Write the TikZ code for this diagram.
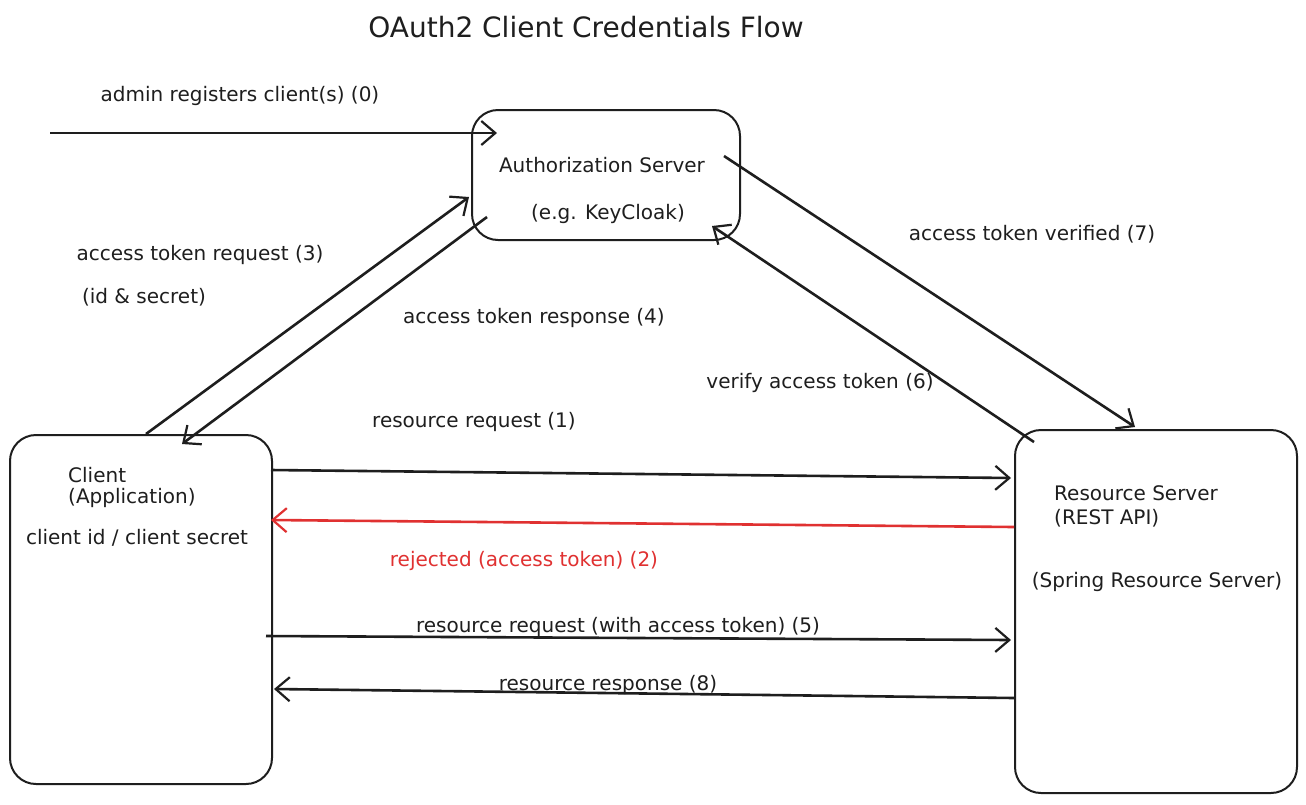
\documentclass[tikz,border=0pt]{standalone}
\usepackage{fontspec}
\setmainfont{DejaVu Sans}
\usetikzlibrary{arrows.meta,calc}
\definecolor{ink}{HTML}{1E1E1E}
\definecolor{redink}{HTML}{E03131}
\tikzset{
  box/.style={draw=ink, line width=2pt, rounded corners=26pt, inner sep=0pt},
  arr/.style={draw=ink, line width=2.6pt, -{Straight Barb[length=14pt,width=24pt,line width=2.2pt]}},
  redarr/.style={arr, draw=redink},
  lbl/.style={text=ink, font=\fontsize{20}{24}\selectfont, inner sep=0pt},
  redlbl/.style={lbl, text=redink},
  ttl/.style={text=ink, font=\fontsize{28}{33}\selectfont, inner sep=0pt}
}
\begin{document}
\begin{tikzpicture}[x=1pt,y=-1pt]
\useasboundingbox (0,0) rectangle (1306,804);
\fill[white] (0,0) rectangle (1306,804);

\node[ttl] (title) at (586,27) {OAuth2 Client Credentials Flow};

% boxes
\node[box, minimum width=268pt, minimum height=130pt] (auth) at (606,175) {};
\node[box, minimum width=262pt, minimum height=349pt] (client) at (141,609.5) {};
\node[box, minimum width=282pt, minimum height=363pt] (res) at (1156,611.5) {};

% box texts
\node[lbl] (authA) at (602,165) {Authorization Server};
\node[lbl] (authB) at (608,214) {(e.g. KeyCloak)};
\node[lbl, anchor=west] (cliA) at (68,475) {Client};
\node[lbl, anchor=west] (cliB) at (68,498) {(Application)};
\node[lbl] (cliC) at (137,538) {client id / client secret};
\node[lbl, anchor=west] (resA) at (1054,493) {Resource Server};
\node[lbl, anchor=west] (resB) at (1054,518) {(REST API)};
\node[lbl] (resC) at (1157,582) {(Spring Resource Server)};

% connectors
\coordinate (admin) at (50,133);
\draw[arr] (admin) -- ($(auth.west |- admin)+(26,0)$);
\draw[arr] ($(client.north west)+(137,0)$) -- ($(auth.north west)+(-2,88)$);
\draw[arr] ($(auth.north west)+(16,108)$) -- ($(client.north west)+(173,10)$);
\draw[arr] ($(res.north west)+(20,13)$) -- ($(auth.north west)+(241,117)$);
\draw[arr] ($(auth.north west)+(253,47)$) -- ($(res.north west)+(121,-2)$);
\draw[arr] ($(client.north east)+(-2,36)$) -- ($(res.north west)+(-3,49)$);
\draw[redarr] ($(res.north west)+(0,98)$) -- ($(client.north east)+(-2,86)$);
\draw[arr] ($(client.north east)+(-7,202)$) -- ($(res.north west)+(-3,211)$);
\draw[arr] ($(res.north west)+(0,269)$) -- ($(client.north east)+(1,255)$);

% connector labels
\node[lbl] (l0) at (240,96) {admin registers client(s) (0)};
\node[lbl] (l3) at (200,255) {access token request (3)};
\node[lbl] (l3b) at (144,297) {(id \& secret)};
\node[lbl] (l4) at (534,318) {access token response (4)};
\node[lbl] (l7) at (1032,234) {access token verified (7)};
\node[lbl] (l6) at (820,383) {verify access token (6)};
\node[lbl] (l1) at (474,422) {resource request (1)};
\node[redlbl] (l2) at (524,561) {rejected (access token) (2)};
\node[lbl] (l5) at (618,627) {resource request (with access token) (5)};
\node[lbl] (l8) at (608,685) {resource response (8)};
\end{tikzpicture}
\end{document}
